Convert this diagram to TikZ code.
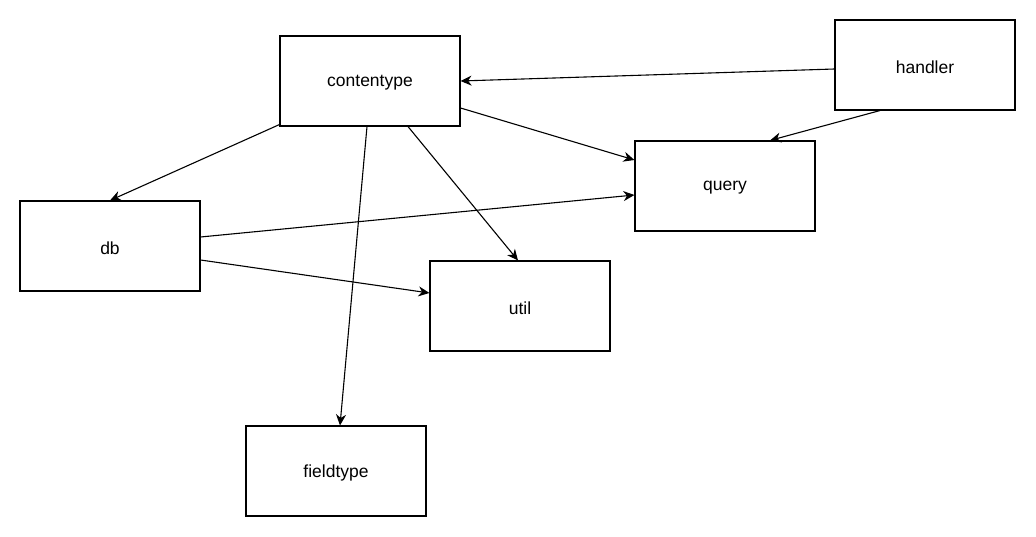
\documentclass[tikz,border=0pt]{standalone}
\usepackage{fontspec}
\setmainfont{Liberation Sans}
\usetikzlibrary{arrows.meta}
\begin{document}
\begin{tikzpicture}[x=1pt,y=-1pt,
  box/.style={draw,line width=1.1pt,minimum width=180pt,minimum height=90pt,inner sep=0pt,font=\fontsize{17.5}{20}\selectfont},
  lbl/.style={font=\fontsize{17.5}{20}\selectfont,inner sep=0pt},
  conn/.style={line width=1.1pt,-{Stealth[length=11pt,width=10pt,inset=3.5pt]}}]
\useasboundingbox (0,0) rectangle (1036,537);
\node[box] (contentype) at (370,81) {};
\node[box] (handler) at (925,65) {};
\node[box] (query) at (725,186) {};
\node[box] (db) at (110,246) {};
\node[box] (util) at (520,306) {};
\node[box] (fieldtype) at (336,471) {};
\node[lbl] (tcontentype) at ([yshift=-2pt]contentype.center) {contentype};
\node[lbl] (thandler) at ([yshift=-2pt]handler.center) {handler};
\node[lbl] (tquery) at ([yshift=-2pt]query.center) {query};
\node[lbl] (tdb) at ([yshift=-2pt]db.center) {db};
\node[lbl] (tutil) at ([yshift=-2pt]util.center) {util};
\node[lbl] (tfieldtype) at ([yshift=-2pt]fieldtype.center) {fieldtype};
\draw[conn] ([yshift=-4pt]handler.west) -- (contentype.east);
\draw[conn] ([xshift=-45pt]handler.south) -- ([xshift=45pt]query.north);
\draw[conn] ([yshift=-27pt]contentype.east) -- ([yshift=26pt]query.west);
\draw[conn] ([yshift=2pt]contentype.south west) -- (db.north);
\draw[conn] ([xshift=-3pt]contentype.south) -- ([xshift=4pt]fieldtype.north);
\draw[conn] ([xshift=38pt]contentype.south) -- ([xshift=-2pt]util.north);
\draw[conn] ([yshift=9pt]db.east) -- ([yshift=-9pt]query.west);
\draw[conn] ([yshift=-14pt]db.east) -- ([yshift=13pt]util.west);
\end{tikzpicture}
\end{document}
